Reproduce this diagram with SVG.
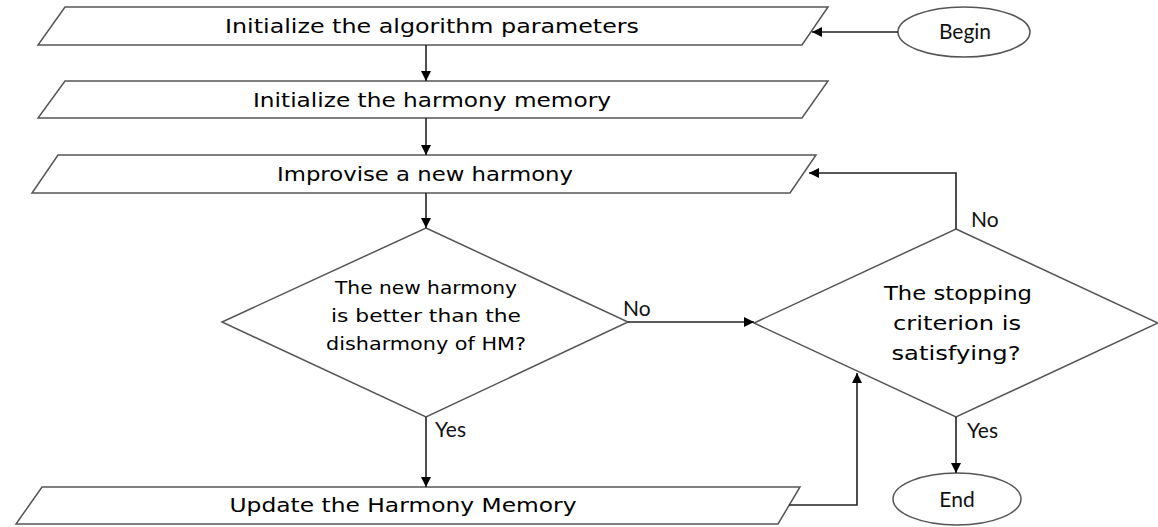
<svg xmlns="http://www.w3.org/2000/svg" width="1158" height="527" viewBox="0 0 1158 527">
<style>
.shape{fill:#fff;stroke:#555;stroke-width:1.5}
.conn{fill:none;stroke:#222;stroke-width:1.6}
.t{font-family:"DejaVu Sans","Liberation Sans",sans-serif;fill:#000;text-anchor:middle}
.big{font-size:20px}
.mid{font-size:18px}
.lab{font-family:Lato,"Open Sans","Liberation Sans",sans-serif;font-size:21px;fill:#111}
</style>
<defs>
<marker id="ah" markerWidth="10" markerHeight="10" refX="10" refY="5" orient="auto" markerUnits="userSpaceOnUse"><path d="M0,0 L10,5 L0,10 z" fill="#000"/></marker>
</defs>
<g id="begin"><ellipse class="shape" cx="964" cy="32" rx="66" ry="25"/><text class="lab" x="965" y="39" text-anchor="middle">Begin</text></g>
<g id="init-params"><polygon class="shape" points="65,7 828,7 802,45 38,45"/><text class="t big" x="432" y="33" textLength="414" lengthAdjust="spacingAndGlyphs">Initialize the algorithm parameters</text></g>
<g id="init-hm"><polygon class="shape" points="65,81 828,81 802,118 38,118"/><text class="t big" x="432" y="107" textLength="358" lengthAdjust="spacingAndGlyphs">Initialize the harmony memory</text></g>
<g id="improvise"><polygon class="shape" points="58,155 816,155 790,193 32,193"/><text class="t big" x="425" y="181" textLength="296" lengthAdjust="spacingAndGlyphs">Improvise a new harmony</text></g>
<g id="better"><polygon class="shape" points="426,228 628,322 426,417 222,322"/>
<text class="t mid" x="426" y="294" textLength="182" lengthAdjust="spacingAndGlyphs">The new harmony</text>
<text class="t mid" x="426" y="322" textLength="190" lengthAdjust="spacingAndGlyphs">is better than the</text>
<text class="t mid" x="426" y="350" textLength="200" lengthAdjust="spacingAndGlyphs">disharmony of HM?</text></g>
<g id="stopping"><polygon class="shape" points="956,229 1158,323 956,417 754,323"/>
<text class="t big" x="958" y="300" textLength="148" lengthAdjust="spacingAndGlyphs">The stopping</text>
<text class="t big" x="957" y="330" textLength="128" lengthAdjust="spacingAndGlyphs">criterion is</text>
<text class="t big" x="956" y="360" textLength="129" lengthAdjust="spacingAndGlyphs">satisfying?</text></g>
<g id="update"><polygon class="shape" points="42,487 800,487 778,524 16,524"/><text class="t big" x="403" y="512" textLength="347" lengthAdjust="spacingAndGlyphs">Update the Harmony Memory</text></g>
<g id="end"><ellipse class="shape" cx="957" cy="499" rx="64" ry="26"/><text class="lab" x="957" y="507" text-anchor="middle">End</text></g>
<g id="connectors">
<path class="conn" d="M898,32 H812" marker-end="url(#ah)"/>
<path class="conn" d="M426,45 V81" marker-end="url(#ah)"/>
<path class="conn" d="M426,118 V155" marker-end="url(#ah)"/>
<path class="conn" d="M426,193 V228" marker-end="url(#ah)"/>
<path class="conn" d="M628,322 H754" marker-end="url(#ah)"/>
<path class="conn" d="M426,417 V487" marker-end="url(#ah)"/>
<path class="conn" d="M789,505 H857 V373" marker-end="url(#ah)"/>
<path class="conn" d="M956,229 V173 H809" marker-end="url(#ah)"/>
<path class="conn" d="M956,417 V473" marker-end="url(#ah)"/>
<text class="lab" x="623" y="316">No</text>
<text class="lab" x="971" y="227">No</text>
<text class="lab" x="435" y="437">Yes</text>
<text class="lab" x="967" y="438">Yes</text>
</g>
</svg>
